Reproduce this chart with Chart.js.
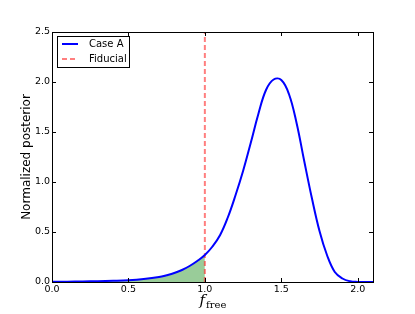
<!DOCTYPE html>
<html>
<head>
<meta charset="utf-8">
<script src="https://cdn.jsdelivr.net/npm/chart.js@4"></script>
<style>
  html, body { margin: 0; padding: 0; background: #fff; }
</style>
</head>
<body>
<canvas id="posteriorChart" width="415" height="314"></canvas>
<script>
// values
const fFree = [0.0, 0.1, 0.2, 0.3, 0.4, 0.5, 0.6, 0.7, 0.75, 0.8, 0.85, 0.9, 0.95, 1.0,
  1.05, 1.1, 1.15, 1.2, 1.25, 1.3, 1.35, 1.4, 1.45, 1.5, 1.55, 1.6, 1.65, 1.7,
  1.75, 1.8, 1.85, 1.9, 1.95, 2.0, 2.05, 2.1];
const caseA = [0.002, 0.003, 0.005, 0.008, 0.012, 0.018, 0.03, 0.05, 0.068, 0.09, 0.12, 0.16, 0.21, 0.27,
  0.355, 0.47, 0.645, 0.865, 1.11, 1.39, 1.68, 1.92, 2.025, 2.02, 1.88, 1.59, 1.21, 0.84,
  0.51, 0.265, 0.10, 0.035, 0.008, 0.001, 0, 0];
const fiducial = 1.0;
const xTicks = [0, 0.5, 1.0, 1.5, 2.0];
const yTicks = [0, 0.5, 1.0, 1.5, 2.0, 2.5];
const seriesNames = ['Case A', 'Fiducial'];

const curve = fFree.map((x, i) => ({ x: x, y: caseA[i] }));
const shaded = curve.filter(p => p.x <= fiducial);

const blue = '#0000ff';
const red = 'rgba(255,0,0,0.5)';

// inward ticks on all four sides + frame, old matplotlib look
const framePlugin = {
  id: 'frame',
  afterDraw(chart) {
    const c = chart.ctx;
    const a = chart.chartArea;
    const xs = chart.scales.x, ys = chart.scales.y;
    c.save();
    c.strokeStyle = '#000';
    c.lineWidth = 1;
    c.beginPath();
    xTicks.forEach(v => {
      const px = Math.round(xs.getPixelForValue(v)) + 0.5;
      c.moveTo(px, a.bottom); c.lineTo(px, a.bottom - 4);
      c.moveTo(px, a.top); c.lineTo(px, a.top + 4);
    });
    yTicks.forEach(v => {
      const py = Math.round(ys.getPixelForValue(v)) + 0.5;
      c.moveTo(a.left, py); c.lineTo(a.left + 4, py);
      c.moveTo(a.right, py); c.lineTo(a.right - 4, py);
    });
    c.stroke();
    c.strokeRect(Math.round(a.left) + 0.5, Math.round(a.top) + 0.5,
      Math.round(a.right - a.left), Math.round(a.bottom - a.top));

    // x label: f_free
    c.fillStyle = '#000';
    c.textBaseline = 'alphabetic';
    c.font = 'italic 15px "DejaVu Serif"';
    const wf = c.measureText('f').width;
    c.font = '10px "DejaVu Serif"';
    const ws = c.measureText('free').width;
    const cx = (a.left + a.right) / 2;
    const x0 = cx - (wf + ws) / 2;
    c.font = 'italic 15px "DejaVu Serif"';
    c.fillText('f', x0, 305);
    c.font = '10px "DejaVu Serif"';
    c.fillText('free', x0 + wf + 1, 308);

    // legend box
    const lx = 57.5, ly = 36.5, lw = 72, lh = 31;
    c.fillStyle = '#fff';
    c.fillRect(lx, ly, lw, lh);
    c.strokeRect(lx, ly, lw, lh);
    c.lineWidth = 2;
    c.strokeStyle = blue;
    c.beginPath(); c.moveTo(62, 44); c.lineTo(78, 44); c.stroke();
    c.strokeStyle = red;
    c.setLineDash([5, 3]);
    c.beginPath(); c.moveTo(62, 59); c.lineTo(78, 59); c.stroke();
    c.setLineDash([]);
    c.fillStyle = '#000';
    c.font = '10px "DejaVu Sans"';
    c.textBaseline = 'middle';
    c.fillText(seriesNames[0], 89, 44);
    c.fillText(seriesNames[1], 89, 59);
    c.restore();
  }
};

const ctx = document.getElementById('posteriorChart');

new Chart(ctx, {
  type: 'line',
  data: {
    datasets: [{
      label: seriesNames[0],
      data: curve,
      borderColor: blue,
      borderWidth: 2,
      pointRadius: 0,
      tension: 0.4,
      fill: false
    }, {
      label: seriesNames[1],
      data: [{ x: fiducial, y: 0 }, { x: fiducial, y: 2.5 }],
      borderColor: red,
      borderWidth: 2,
      borderDash: [5, 3],
      pointRadius: 0,
      fill: false
    }, {
      label: 'shade',
      data: shaded,
      borderWidth: 0,
      borderColor: 'rgba(0,0,0,0)',
      backgroundColor: 'rgba(0,128,0,0.4)',
      pointRadius: 0,
      tension: 0.4,
      fill: 'origin'
    }]
  },
  options: {
    responsive: false,
    animation: false,
    layout: { padding: { left: 0, right: 42, top: 32, bottom: 0 } },
    plugins: {
      legend: { display: false },
      tooltip: { enabled: false }
    },
    scales: {
      x: {
        type: 'linear',
        min: 0,
        max: 2.1,
        grid: { display: false, drawTicks: false },
        border: { display: false },
        afterBuildTicks: s => { s.ticks = xTicks.map(v => ({ value: v })); },
        afterFit: s => { s.height = 32; },
        ticks: {
          color: '#000',
          padding: 2,
          maxRotation: 0,
          font: { family: 'DejaVu Sans', size: 9.5 },
          callback: v => v.toFixed(1)
        }
      },
      y: {
        min: 0,
        max: 2.5,
        grid: { display: false, drawTicks: false },
        border: { display: false },
        afterBuildTicks: s => { s.ticks = yTicks.map(v => ({ value: v })); },
        afterFit: s => { s.width = 52; },
        ticks: {
          color: '#000',
          padding: 2,
          font: { family: 'DejaVu Sans', size: 9.5 },
          callback: v => v.toFixed(1)
        },
        title: {
          display: true,
          text: 'Normalized posterior',
          color: '#000',
          padding: { top: 20, bottom: 0 },
          font: { family: 'DejaVu Sans', size: 12 }
        }
      }
    }
  },
  plugins: [framePlugin]
});
</script>
</body>
</html>
